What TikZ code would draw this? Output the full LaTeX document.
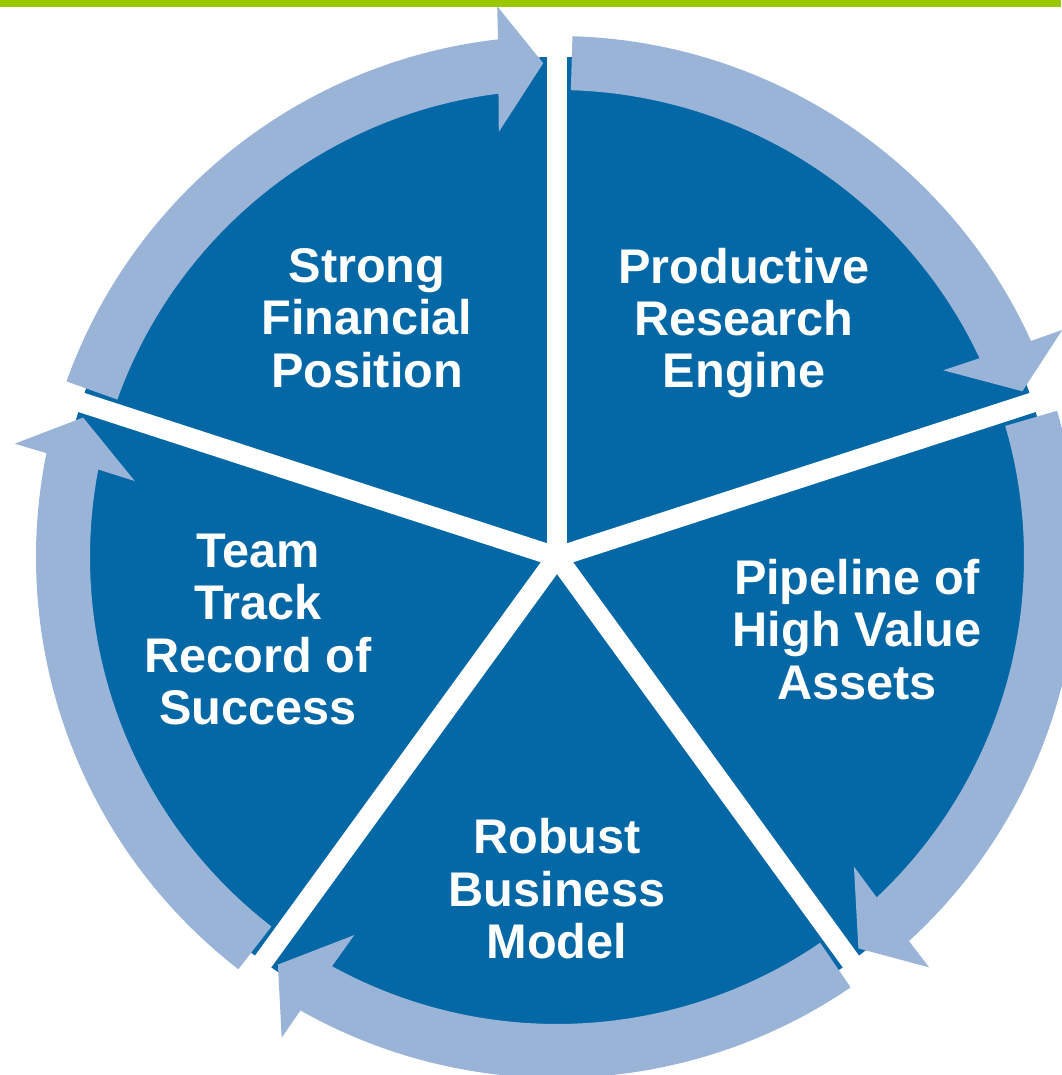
\documentclass[tikz,border=0pt]{standalone}
\usepackage{fontspec}
\setmainfont{Liberation Sans}
\definecolor{piedark}{HTML}{0468A6}
\definecolor{ringlight}{HTML}{9AB4D8}
\definecolor{topgreen}{HTML}{99C800}
\tikzset{
  sectorlabel/.style={
    text=white,
    align=center,
    inner sep=0pt,
    font=\fontsize{34.6}{37.3}\selectfont\bfseries
  },
  ringarrow/.style={
    fill=ringlight,
    draw=none
  },
  gapline/.style={
    draw=white,
    line width=0.5cm
  }
}

\begin{document}
\begin{tikzpicture}[x=0.025cm, y=0.025cm]
        \useasboundingbox (-557,-518) rectangle (504,557);
        \fill[piedark] (0,0) circle[radius=500];
        \foreach \b in {90,18,-54,-126,162}
          \draw[gapline] (0,0) -- (\b:505);

        % ring of arrows, clockwise
        \foreach \b in {162,90,18,-54,-126} {
          \pgfmathsetmacro{\e}{\b-72}
          \fill[ringarrow] ({\b-1.7}:521)
            arc[start angle=\b-1.7, end angle=\e+6.5, radius=521]
            -- ({\e+6.2}:554) -- ({\e+1.6}:494) -- ({\e+7.8}:429) -- ({\e+7.2}:467)
            arc[start angle=\e+7.2, end angle=\b-1.7, radius=467] -- cycle;
        }

        \node[sectorlabel] (financial) at (-190,239) {Strong\\Financial\\Position};
        \node[sectorlabel] (research) at (187,234) {Productive\\Research\\Engine};
        \node[sectorlabel] (pipeline) at (300,-72.5) {Pipeline of\\High Value\\Assets};
        \node[sectorlabel] (business) at (0,-332) {Robust\\Business\\Model};
        \node[sectorlabel] (team) at (-299,-72.5) {Team\\Track\\Record of\\Success};

        \fill[topgreen] (-557,550.3) rectangle (504,557);
      \end{tikzpicture}
\end{document}
